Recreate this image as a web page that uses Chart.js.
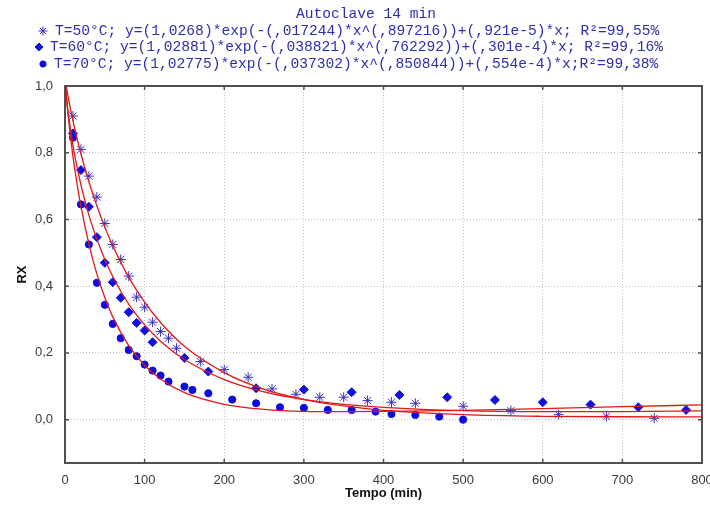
<!DOCTYPE html>
<html>
<head>
<meta charset="utf-8">
<script src="https://cdn.jsdelivr.net/npm/chart.js@4.4.1/dist/chart.umd.min.js"></script>
<style>
  html, body { margin: 0; padding: 0; overflow: hidden; background: #fff; }
  #wrap { position: relative; width: 725px; height: 506px; }
</style>
</head>
<body>
<div id="wrap"><canvas id="c"></canvas></div>
<script>
// measured points (tempo in min, RX)
const t50X = [10, 20, 30, 40, 50, 60, 70, 80, 90, 100, 110, 120, 130, 140, 170, 200, 230, 260, 290, 320, 350, 380, 410, 440, 500, 560, 620, 680, 740];
const t50Y = [0.91, 0.81, 0.73, 0.667, 0.588, 0.525, 0.48, 0.43, 0.367, 0.337, 0.292, 0.264, 0.244, 0.214, 0.174, 0.15, 0.127, 0.092, 0.076, 0.067, 0.067, 0.057, 0.052, 0.049, 0.04, 0.027, 0.015, 0.01, 0.004];

const t60X = [10, 20, 30, 40, 50, 60, 70, 80, 90, 100, 110, 150, 180, 240, 300, 360, 420, 480, 540, 600, 660, 720, 780];
const t60Y = [0.858, 0.748, 0.638, 0.547, 0.47, 0.412, 0.365, 0.322, 0.29, 0.267, 0.232, 0.185, 0.144, 0.094, 0.09, 0.082, 0.074, 0.067, 0.059, 0.052, 0.045, 0.037, 0.029];

const t70X = [10, 20, 30, 40, 50, 60, 70, 80, 90, 100, 110, 120, 130, 150, 160, 180, 210, 240, 270, 300, 330, 360, 390, 410, 440, 470, 500];
const t70Y = [0.845, 0.645, 0.525, 0.41, 0.344, 0.287, 0.244, 0.209, 0.19, 0.165, 0.147, 0.132, 0.114, 0.099, 0.089, 0.079, 0.06, 0.049, 0.037, 0.035, 0.029, 0.029, 0.024, 0.017, 0.014, 0.009, 0.0];

// fitted curves
const curveX = [0, 2, 5, 10, 15, 20, 30, 40, 50, 60, 80, 100, 120, 150, 200, 250, 300, 350, 400, 500, 600, 700, 800];
const fit50 = [1.027, 0.994, 0.954, 0.896, 0.844, 0.797, 0.713, 0.641, 0.577, 0.521, 0.427, 0.352, 0.291, 0.220, 0.141, 0.091, 0.061, 0.041, 0.028, 0.015, 0.010, 0.0086, 0.0084];
const fit60 = [1.029, 0.963, 0.901, 0.822, 0.758, 0.704, 0.613, 0.541, 0.480, 0.429, 0.346, 0.284, 0.235, 0.180, 0.120, 0.083, 0.060, 0.046, 0.037, 0.027, 0.024, 0.024, 0.026];
const fit70 = [1.028, 0.961, 0.888, 0.789, 0.708, 0.639, 0.526, 0.437, 0.366, 0.308, 0.222, 0.163, 0.122, 0.081, 0.046, 0.031, 0.025, 0.024, 0.0245, 0.028, 0.033, 0.039, 0.044];

const xTicks = [0, 100, 200, 300, 400, 500, 600, 700, 800];
const yTicks = [0, 0.2, 0.4, 0.6, 0.8, 1.0];

const chartTitle = 'Autoclave 14 min';
const legendLabels = [
    'T=50°C; y=(1,0268)*exp(-(,017244)*x^(,897216))+(,921e-5)*x; R²=99,55%',
    'T=60°C; y=(1,02881)*exp(-(,038821)*x^(,762292))+(,301e-4)*x; R²=99,16%',
    'T=70°C; y=(1,02775)*exp(-(,037302)*x^(,850844))+(,554e-4)*x;R²=99,38%'
];

const toXY = (xs, ys) => xs.map((x, i) => ({ x: x, y: ys[i] }));

const fitStyle = {
    showLine: true,
    borderColor: '#e01818',
    borderWidth: 1.3,
    pointRadius: 0,
    cubicInterpolationMode: 'monotone',
    fill: false
};

const markerStyles = [
    { pointStyle: 'star', radius: 5, color: '#3a30c0', border: 1 },
    { pointStyle: 'rectRot', radius: 4.5, color: '#1010e0', border: 1 },
    { pointStyle: 'circle', radius: 3.6, color: '#0c0ce0', border: 1 }
];

const frame = {
    id: 'frame',
    afterDatasetsDraw(chart) {
        const ctx = chart.ctx;
        const a = chart.chartArea;
        const xs = chart.scales.x;
        const ys = chart.scales.y;
        ctx.save();
        ctx.strokeStyle = '#505050';
        ctx.lineWidth = 2;
        ctx.strokeRect(a.left, a.top, a.right - a.left, a.bottom - a.top);
        ctx.lineWidth = 1.5;
        ctx.beginPath();
        xTicks.forEach(v => {
            const px = xs.getPixelForValue(v);
            ctx.moveTo(px, a.bottom); ctx.lineTo(px, a.bottom - 4);
            ctx.moveTo(px, a.top); ctx.lineTo(px, a.top + 4);
        });
        yTicks.forEach(v => {
            const py = ys.getPixelForValue(v);
            ctx.moveTo(a.left, py); ctx.lineTo(a.left + 4, py);
            ctx.moveTo(a.right, py); ctx.lineTo(a.right - 4, py);
        });
        ctx.stroke();
        ctx.restore();
    },
    afterDraw(chart) {
        const ctx = chart.ctx;
        ctx.save();
        ctx.font = '14.6px "Liberation Mono", "Courier New", monospace';
        ctx.fillStyle = '#2e2eb0';
        ctx.textBaseline = 'middle';
        ctx.textAlign = 'center';
        ctx.fillText(chartTitle, 366, 14);
        ctx.textAlign = 'left';
        const rows = [
            { y: 31, mx: 43, tx: 55 },
            { y: 47, mx: 39, tx: 50 },
            { y: 64, mx: 43, tx: 54 }
        ];
        rows.forEach((r, i) => {
            const m = markerStyles[i];
            ctx.strokeStyle = m.color;
            ctx.fillStyle = m.color;
            Chart.helpers.drawPoint(ctx, { pointStyle: m.pointStyle, radius: m.radius - 0.5, rotation: 0, borderWidth: m.border }, r.mx, r.y);
            ctx.fillStyle = '#2e2eb0';
            ctx.fillText(legendLabels[i], r.tx, r.y);
        });
        ctx.restore();
    }
};

const scatterSet = (label, xs, ys, m) => ({
    label: label,
    data: toXY(xs, ys),
    showLine: false,
    pointStyle: m.pointStyle,
    pointRadius: m.radius,
    pointBackgroundColor: m.color,
    pointBorderColor: m.color,
    pointBorderWidth: m.border
});

new Chart(document.getElementById('c'), {
    type: 'scatter',
    data: {
        datasets: [
            Object.assign({ label: 'fit 50', data: toXY(curveX, fit50) }, fitStyle),
            Object.assign({ label: 'fit 60', data: toXY(curveX, fit60) }, fitStyle),
            Object.assign({ label: 'fit 70', data: toXY(curveX, fit70) }, fitStyle),
            scatterSet('T=50°C', t50X, t50Y, markerStyles[0]),
            scatterSet('T=60°C', t60X, t60Y, markerStyles[1]),
            scatterSet('T=70°C', t70X, t70Y, markerStyles[2])
        ]
    },
    options: {
        responsive: true,
        maintainAspectRatio: false,
        animation: false,
        layout: { padding: { top: 86, right: 23, left: 0, bottom: 0 } },
        scales: {
            x: {
                type: 'linear',
                min: 0,
                max: 800,
                afterBuildTicks: axis => { axis.ticks = xTicks.map(v => ({ value: v })); },
                afterFit: axis => { axis.height = 43; },
                grid: { color: '#c4c4c4', drawTicks: false },
                border: { display: false, dash: [1, 2] },
                ticks: {
                    padding: 10,
                    color: '#3a3a3a',
                    font: { family: '"Liberation Sans", Arial, sans-serif', size: 13 },
                    maxRotation: 0
                },
                title: {
                    display: true,
                    text: 'Tempo (min)',
                    color: '#111',
                    font: { family: '"Liberation Sans", Arial, sans-serif', size: 13, weight: 'bold' },
                    padding: { top: 0, bottom: 5 }
                }
            },
            y: {
                type: 'linear',
                min: -0.13,
                max: 1.0,
                afterBuildTicks: axis => { axis.ticks = yTicks.map(v => ({ value: v })); },
                afterFit: axis => { axis.width = 65; },
                grid: { color: '#c4c4c4', drawTicks: false },
                border: { display: false, dash: [1, 2] },
                ticks: {
                    padding: 12,
                    color: '#3a3a3a',
                    font: { family: '"Liberation Sans", Arial, sans-serif', size: 13 },
                    callback: v => v.toFixed(1).replace('.', ',')
                },
                title: {
                    display: true,
                    text: 'RX',
                    color: '#111',
                    font: { family: '"Liberation Sans", Arial, sans-serif', size: 13, weight: 'bold' },
                    padding: { top: 15, bottom: 0 }
                }
            }
        },
        plugins: {
            legend: { display: false },
            title: { display: false },
            tooltip: { enabled: false }
        }
    },
    plugins: [frame]
});
</script>
</body>
</html>
